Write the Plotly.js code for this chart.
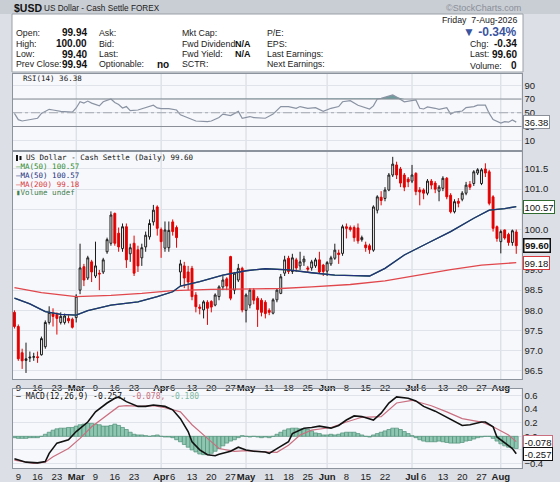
<!DOCTYPE html>
<html><head><meta charset="utf-8">
<script src="https://cdn.plot.ly/plotly-3.0.1.min.js"></script>
<style>html,body{margin:0;padding:0;background:#d6d9df;}#chart{width:560px;height:482px;}</style>
</head><body><div id="chart"></div>
<script>
const W=560,H=482;
function weekdays(a,b){const out=[];let d=new Date(a+'T00:00:00Z');const e=new Date(b+'T00:00:00Z');while(d<=e){const w=d.getUTCDay();if(w>0&&w<6)out.push(d.toISOString().slice(0,10));d=new Date(d.getTime()+86400000);}return out;}
const dates=weekdays('2026-02-06','2026-08-07');

const openP=[97.95,97.60,96.95,96.76,96.82,96.84,96.85,96.90,97.10,97.70,
97.92,97.90,97.70,97.70,97.80,97.78,97.82,98.50,99.08,98.80,
99.20,98.85,98.92,98.95,99.45,99.66,100.40,99.91,99.53,100.07,
99.40,99.66,99.50,99.30,99.57,99.82,100.19,100.56,100.00,99.54,
99.55,100.19,100.05,98.95,99.10,98.95,99.04,98.38,98.08,98.01,
98.20,98.22,98.13,98.34,98.58,98.78,99.33,98.50,98.75,99.04,
98.00,98.13,98.50,98.30,98.25,98.20,98.00,97.93,98.26,98.42,
98.92,99.29,98.96,99.25,99.10,99.20,99.05,99.05,99.10,99.25,
99.12,98.97,99.15,99.29,99.42,99.41,100.07,100.05,100.05,100.04,
99.75,99.62,99.60,99.49,100.48,100.80,100.77,100.98,101.35,101.60,
101.50,101.35,101.25,101.20,101.39,100.98,100.98,100.90,101.20,101.15,
100.95,101.02,101.27,100.85,100.44,100.70,100.75,100.90,101.12,101.14,
101.40,101.14,101.50,101.43,100.81,100.07,99.70,99.99,99.88,99.68,
99.94];
const highP=[98.00,97.65,97.05,97.20,96.98,96.95,96.98,97.35,97.75,98.10,
98.05,97.95,97.95,97.92,97.88,97.82,98.40,99.65,99.15,99.35,
99.25,99.70,99.00,99.30,99.80,100.45,100.42,100.05,100.15,100.15,
99.65,99.85,99.60,99.65,99.95,100.25,100.61,100.60,100.05,100.20,
100.20,100.25,100.10,99.25,99.20,99.10,99.10,98.45,98.15,98.25,
98.25,98.25,98.42,98.62,98.85,98.82,99.35,98.95,99.15,99.08,
98.42,98.55,98.55,98.35,98.30,98.25,98.05,98.30,98.55,98.90,
99.35,99.35,99.40,99.30,99.45,99.35,99.10,99.25,99.30,99.45,
99.15,99.22,99.35,99.65,99.50,100.12,100.15,100.10,100.10,100.15,
99.85,99.70,99.65,100.60,100.85,100.95,101.05,101.40,101.80,101.68,
101.55,101.40,101.30,101.60,101.42,101.05,101.02,101.25,101.25,101.20,
101.10,101.32,101.30,100.90,100.75,100.78,100.95,101.18,101.20,101.47,
101.52,101.52,101.64,101.48,100.85,100.10,100.00,100.00,99.92,100.00,
100.00];
const lowP=[97.55,96.75,96.55,96.45,96.72,96.75,96.70,96.88,97.05,97.65,
97.60,97.40,97.65,97.65,97.68,97.55,97.70,98.40,98.60,98.75,
98.70,98.80,98.50,98.90,99.40,99.60,99.60,99.45,99.45,99.05,
99.20,98.85,98.95,99.10,99.45,99.75,100.10,99.85,99.30,99.45,
99.45,99.85,99.55,98.60,98.55,98.50,98.25,97.95,97.90,97.80,
97.64,97.95,98.10,98.25,98.50,98.50,98.25,98.40,98.70,97.95,
97.70,98.05,98.15,97.59,97.85,97.80,97.88,97.90,98.20,98.40,
98.85,98.90,98.90,98.95,99.00,99.10,98.95,98.98,99.05,98.90,
98.85,98.85,99.10,99.25,99.15,99.35,99.78,99.95,99.70,99.65,
99.70,99.45,99.40,99.45,100.40,100.60,100.70,100.95,101.30,101.25,
101.05,100.95,101.05,101.15,100.85,100.60,100.75,100.85,101.00,100.90,
100.70,100.95,100.75,100.40,100.40,100.55,100.70,100.85,100.98,101.08,
101.35,101.10,101.30,100.60,99.95,99.70,99.41,99.75,99.60,99.60,
99.40];
const closeP=[97.60,96.80,96.75,96.80,96.84,96.85,96.83,97.30,97.70,97.95,
97.85,97.80,97.85,97.86,97.74,97.58,98.35,99.05,98.75,99.30,
98.95,99.10,98.90,99.25,99.75,100.36,99.66,99.57,100.07,99.25,
99.55,98.92,99.10,99.55,99.86,100.15,100.48,100.03,99.70,99.99,
99.98,99.95,99.80,99.15,98.80,98.70,98.34,98.09,98.05,98.21,
98.05,98.08,98.38,98.58,98.75,98.60,98.30,98.92,99.04,98.01,
98.38,98.50,98.25,98.02,97.95,97.92,97.95,98.26,98.50,98.83,
99.25,98.96,99.30,99.05,99.20,99.27,99.02,99.20,99.25,98.95,
98.96,99.18,99.30,99.49,99.38,100.07,100.03,100.00,99.80,99.72,
99.80,99.55,99.50,100.56,100.81,100.72,100.98,101.35,101.62,101.35,
101.15,101.05,101.18,101.35,100.94,100.93,100.90,101.20,101.10,101.00,
101.05,101.27,100.81,100.44,100.69,100.65,100.90,101.10,101.05,101.43,
101.48,101.48,101.40,100.65,100.03,99.78,99.95,99.79,99.68,99.97,
99.60];

const ma50Idx=[0,4,8,12,16,19,25,32,37,41,43,48,54,60,65,71,77,83,88,92,96,101,107,113,119,123,127,130];
const ma50Val=[98.30,98.16,97.97,97.90,97.88,97.99,98.13,98.21,98.34,98.46,98.60,98.71,98.87,98.98,99.03,99.00,98.93,98.87,98.86,98.85,99.04,99.37,99.66,99.95,100.28,100.48,100.52,100.57];
const ma200Idx=[0,7,16,25,33,41,51,60,69,77,87,96,104,113,121,130];
const ma200Val=[98.56,98.44,98.34,98.37,98.42,98.49,98.52,98.53,98.54,98.58,98.64,98.73,98.87,99.01,99.12,99.18];

const rsiIdx=[0,1,2,4,6,7,9,10,12,15,16,17,18,19,20,22,23,25,26,27,28,29,30,32,36,37,38,40,42,43,45,47,50,51,53,54,56,57,58,59,61,62,65,67,68,69,71,73,74,76,78,80,82,84,85,87,89,90,92,93,94,95,98,99,101,104,105,106,107,109,110,112,113,114,116,117,119,120,122,123,124,126,127,128,129,130];
const rsiVal=[49,40,38,40,42,49,55,54,52,51,57,66,64,67,64,60,66,70,65,62,57,59,53,54,61,57,56,56,54,47,42,38,37,38,43,48,46,49,52,42,44.5,43,42,48,53,59,59,56.5,59,56.5,57.5,52,56.5,59,66,67.6,61,59,55.5,60,70,71,76,73,66,68.6,56.5,55.5,58.4,56.5,55,57.5,48,51,52.6,57.5,59,61,61,49,40,35,37,36.3,39.6,36.38];

const macdIdx=[0,3,6,8,9,11,14,16,19,21,24,26,27,29,32,34,36,39,41,43,45,46,48,50,52,53,56,58,60,62,65,66,68,69,71,72,75,77,79,82,84,86,88,90,93,95,97,99,102,104,106,109,111,114,116,118,121,122,124,125,127,129,130];
const macdVal=[-0.33,-0.38,-0.39,-0.37,-0.25,-0.10,-0.05,0.07,0.21,0.36,0.49,0.56,0.58,0.51,0.44,0.44,0.46,0.44,0.39,0.26,0.07,-0.08,-0.20,-0.27,-0.285,-0.265,-0.22,-0.16,-0.20,-0.22,-0.23,-0.25,-0.18,-0.15,-0.08,0.04,0.12,0.13,0.15,0.12,0.16,0.24,0.30,0.29,0.24,0.34,0.49,0.58,0.56,0.52,0.44,0.37,0.31,0.21,0.16,0.17,0.21,0.21,0.14,-0.01,-0.10,-0.18,-0.257];
const sigIdx=[0,5,8,10,14,17,20,24,27,29,33,36,39,43,46,50,53,57,60,65,68,71,74,77,82,86,90,95,99,103,108,112,116,121,124,128,130];
const sigVal=[-0.35,-0.40,-0.38,-0.30,-0.18,-0.03,0.14,0.31,0.44,0.45,0.44,0.45,0.42,0.36,0.17,-0.03,-0.18,-0.22,-0.21,-0.23,-0.235,-0.13,0.02,0.09,0.13,0.21,0.28,0.29,0.49,0.53,0.45,0.36,0.26,0.21,0.14,0.02,-0.078];
const histVal=[-0.02,-0.03,-0.03,-0.03,-0.02,-0.02,-0.02,0.00,0.03,0.06,
0.09,0.11,0.12,0.12,0.13,0.13,0.15,0.17,0.18,0.19,
0.19,0.18,0.17,0.15,0.15,0.16,0.18,0.16,0.13,0.10,
0.06,0.03,0.02,0.02,0.01,0.00,0.01,0.02,0.00,-0.01,
-0.01,-0.02,-0.05,-0.08,-0.12,-0.16,-0.20,-0.23,-0.26,-0.27,
-0.27,-0.25,-0.22,-0.18,-0.14,-0.10,-0.07,-0.05,-0.02,0.01,
0.00,-0.01,0.00,-0.01,-0.02,-0.01,-0.02,0.00,0.03,0.06,
0.09,0.11,0.12,0.12,0.11,0.11,0.10,0.08,0.05,0.04,
0.02,0.02,0.03,0.02,0.03,0.05,0.06,0.06,0.06,0.04,
0.02,0.00,-0.01,0.02,0.04,0.06,0.08,0.10,0.12,0.12,
0.10,0.07,0.04,0.01,-0.02,-0.05,-0.07,-0.08,-0.08,-0.08,
-0.07,-0.08,-0.09,-0.10,-0.10,-0.10,-0.09,-0.07,-0.06,-0.04,
-0.02,-0.01,0.00,0.00,-0.03,-0.07,-0.11,-0.14,-0.16,-0.17,
-0.18];

const tickDates=['2026-02-09','2026-02-16','2026-02-23','2026-03-02','2026-03-09','2026-03-16','2026-03-23','2026-04-01','2026-04-06','2026-04-13','2026-04-20','2026-04-27','2026-05-01','2026-05-11','2026-05-18','2026-05-25','2026-06-01','2026-06-08','2026-06-15','2026-06-22','2026-07-01','2026-07-06','2026-07-13','2026-07-20','2026-07-27','2026-08-03'];
const tickLabels=['9','16','23','<b>Mar</b>','9','16','23','<b>Apr</b>','6','13','20','27','<b>May</b>','11','18','25','<b>Jun</b>','8','15','22','<b>Jul</b>','6','13','20','27','<b>Aug</b>'];

// ---- layout helpers ----
const idx=dates.map((_,i)=>i);
const tickVals=tickDates.map(d=>dates.indexOf(d));
const monthStarts=idx.filter(i=>i>0&&dates[i].slice(5,7)!==dates[i-1].slice(5,7));
const px=x=>x/W, py=y=>1-y/H;
const XD=[px(13),px(521.5)];
const XR=[-0.37,131.36];
const FA='Liberation Sans, Arial, sans-serif';
const FM='DejaVu Sans Mono, monospace';
const gridC='#e0e3e9', frameC='#8d939c';

const traces=[];
traces.push({type:'scatter',mode:'lines',x:rsiIdx,y:rsiIdx.map(()=>70),xaxis:'x',yaxis:'y',line:{width:0},hoverinfo:'skip',showlegend:false});
traces.push({type:'scatter',mode:'lines',x:rsiIdx,y:rsiVal.map(v=>Math.max(v,70)),xaxis:'x',yaxis:'y',line:{width:0},fill:'tonexty',fillcolor:'#6e9c9c',showlegend:false});
traces.push({type:'scatter',mode:'lines',x:rsiIdx,y:rsiVal,xaxis:'x',yaxis:'y',line:{color:'#8a93a3',width:1.2},showlegend:false});
traces.push({type:'scatter',mode:'lines',x:ma200Idx,y:ma200Val,xaxis:'x2',yaxis:'y2',line:{color:'#e0474c',width:1.3},showlegend:false});
traces.push({type:'scatter',mode:'lines',x:ma50Idx,y:ma50Val,xaxis:'x2',yaxis:'y2',line:{color:'#2e8b2e',width:1.3},showlegend:false});
traces.push({type:'scatter',mode:'lines',x:ma50Idx,y:ma50Val,xaxis:'x2',yaxis:'y2',line:{color:'#22307e',width:1.3},showlegend:false});
traces.push({type:'candlestick',x:idx,open:openP,high:highP,low:lowP,close:closeP,xaxis:'x2',yaxis:'y2',
  increasing:{line:{color:'#1a1a1a',width:1},fillcolor:'#ffffff'},
  decreasing:{line:{color:'#e30000',width:1},fillcolor:'#e30000'},whiskerwidth:0,showlegend:false});
traces.push({type:'bar',x:idx,y:histVal,xaxis:'x3',yaxis:'y3',marker:{color:'#8fc6b1',line:{color:'#4f8f78',width:0.7}},showlegend:false});
traces.push({type:'scatter',mode:'lines',x:sigIdx,y:sigVal,xaxis:'x3',yaxis:'y3',line:{color:'#c96f80',width:1.2},showlegend:false});
traces.push({type:'scatter',mode:'lines',x:macdIdx,y:macdVal,xaxis:'x3',yaxis:'y3',line:{color:'#111111',width:1.6},showlegend:false});

const xBase={range:XR,domain:XD,showgrid:false,zeroline:false,showline:true,mirror:true,linecolor:frameC,linewidth:1,ticks:'',tickangle:0,fixedrange:true,automargin:false};
const tickFont={family:FA,size:9.5,color:'#222'};
const yBase={side:'right',showgrid:true,gridcolor:gridC,zeroline:false,showline:true,mirror:true,linecolor:frameC,linewidth:1,ticks:'',tickfont:tickFont,fixedrange:true,automargin:false};

const shapes=[];
// title strip and header box
shapes.push({type:'rect',xref:'paper',yref:'paper',x0:0,x1:1,y0:py(14),y1:1,fillcolor:'#c9cdd4',line:{width:0},layer:'below'});
shapes.push({type:'rect',xref:'paper',yref:'paper',x0:px(12),x1:px(523),y0:py(72),y1:py(14),fillcolor:'#ffffff',line:{color:'#9aa0a8',width:1},layer:'below'});
[['x','y'],['x2','y2'],['x3','y3']].forEach(([xa,ya])=>{
  monthStarts.forEach(m=>shapes.push({type:'line',xref:xa,yref:ya+' domain',x0:m,x1:m,y0:0,y1:1,line:{color:'#d3d7de',width:1},layer:'below'}));
});
shapes.push({type:'line',xref:'x domain',yref:'y',x0:0,x1:1,y0:70,y1:70,line:{color:'#8a8f98',width:1}});
shapes.push({type:'line',xref:'x domain',yref:'y',x0:0,x1:1,y0:30,y1:30,line:{color:'#8a8f98',width:1}});
shapes.push({type:'line',xref:'x domain',yref:'y',x0:0,x1:1,y0:50,y1:50,line:{color:'#a3a8b0',width:1,dash:'dashdot'}});

const annotations=[];
function A(text,x,y,o){annotations.push(Object.assign({text:text,x:px(x),y:py(y),xref:'paper',yref:'paper',xanchor:'left',yanchor:'middle',showarrow:false,font:{family:FA,size:8.8,color:'#222'}},o||{}));}
const VF={family:FA,size:10,color:'#111'};
A('<b>$USD</b>',12,8,{font:{family:FA,size:10.5,color:'#111'}});
A('US Dollar - Cash Settle',42,8,{font:{family:FA,size:8.2,color:'#222'}});
A('FOREX',129,8.5,{font:{family:FA,size:8.2,color:'#222'}});
A('©StockCharts.com',523,8,{xanchor:'right',font:{family:FA,size:9,color:'#8a8f98'}});
const R=[33,43.5,54,64.5];
const B=s=>'<b>'+s+'</b>';
['Open:','High:','Low:','Prev Close:'].forEach((t,k)=>A(t,14,R[k]));
['99.94','100.00','99.40','99.94'].forEach((t,k)=>A(B(t),89,R[k],{xanchor:'right',font:VF}));
['Ask:','Bid:','Last:','Optionable:'].forEach((t,k)=>A(t,97,R[k]));
A(B('no'),171,R[3],{xanchor:'right',font:VF});
['Mkt Cap:','Fwd Dividend:','Fwd Yield:','SCTR:'].forEach((t,k)=>A(t,180,R[k]));
A(B('N/A'),253,R[1],{xanchor:'right',font:{family:FA,size:9,color:'#111'}});
A(B('N/A'),253,R[2],{xanchor:'right',font:{family:FA,size:9,color:'#111'}});
['P/E:','EPS:','Last Earnings:','Next Earnings:'].forEach((t,k)=>A(t,265,R[k]));
A('Friday  7-Aug-2026',519,20.5,{xanchor:'right'});
A('<b>▼ -0.34%</b>',519,32.5,{xanchor:'right',font:{family:FA,size:12,color:'#3a55a0'}});
A('Chg:',468,R[1]); A(B('-0.34'),519,R[1],{xanchor:'right',font:VF});
A('Last:',468,R[2]); A(B('99.60'),519,R[2],{xanchor:'right',font:VF});
A('Volume:',468,R[3]+1.5); A(B('0'),519,R[3]+1.5,{xanchor:'right',font:VF});
A('RSI(14) 36.38',21,79,{font:{family:FM,size:7.5,color:'#222'}});
A('US Dollar - Cash Settle (Daily) 99.60',24,158,{font:{family:FM,size:7.5,color:'#111'}});
A('—MA(50) 100.57',14,166.7,{font:{family:FM,size:7.5,color:'#2e8b2e'}});
A('—MA(50) 100.57',14,175,{font:{family:FM,size:7.5,color:'#22307e'}});
A('—MA(200) 99.18',14,184,{font:{family:FM,size:7.5,color:'#d9383d'}});
A('▮Volume undef',14,192.5,{font:{family:FM,size:7.5,color:'#3f7f4f'}});
A('— MACD(12,26,9) -0.257, <span style="color:#c96f80">-0.078,</span> <span style="color:#7fb8a5">-0.180</span>',14,396,{font:{family:FM,size:8,color:'#111'}});
function tag(text,ya,val,border,bold,bw){annotations.push({text:bold?B(text):text,x:px(523),y:val,xref:'paper',yref:ya,xanchor:'left',yanchor:'middle',showarrow:false,bgcolor:'#ffffff',bordercolor:border,borderwidth:bw||1,borderpad:0.5,font:{family:FA,size:9.5,color:'#111'}});}
tag('36.38','y',36.38,'#8a8f98');
tag('100.57','y2',100.57,'#2f6b2f');
tag('99.18','y2',99.18,'#d9383d');
tag('99.60','y2',99.60,'#111',true,1.5);
tag('-0.180','y3',-0.18,'#6aa596');
tag('-0.078','y3',-0.078,'#c96f80');
tag('-0.257','y3',-0.257,'#111');
shapes.push({type:'rect',xref:'paper',yref:'paper',x0:px(16),x1:px(18),y0:py(161),y1:py(155),fillcolor:'#111',line:{width:0}});
shapes.push({type:'rect',xref:'paper',yref:'paper',x0:px(19.5),x1:px(21.5),y0:py(160),y1:py(156),fillcolor:'#111',line:{width:0}});

const layout={width:W,height:H,margin:{l:0,r:0,t:0,b:0},paper_bgcolor:'#dcdfe5',plot_bgcolor:'#f7f8fb',showlegend:false,bargap:0,
  xaxis:Object.assign({},xBase,{anchor:'y',showticklabels:false}),
  yaxis:Object.assign({},yBase,{domain:[py(150),py(74)],range:[-4.2,106.4],tickvals:[10,30,50,70,90],ticktext:['10','30','50','70','90']}),
  xaxis2:Object.assign({},xBase,{anchor:'y2',tickvals:tickVals,ticktext:tickLabels,tickfont:tickFont,rangeslider:{visible:false}}),
  yaxis2:Object.assign({},yBase,{domain:[py(379),py(152)],range:[96.30,101.92],tickvals:[96.5,97,97.5,98,98.5,99,99.5,100,100.5,101,101.5],tickformat:'.1f'}),
  xaxis3:Object.assign({},xBase,{anchor:'y3',tickvals:tickVals,ticktext:tickLabels,tickfont:tickFont}),
  yaxis3:Object.assign({},yBase,{domain:[py(468),py(389)],range:[-0.466,0.696],tickvals:[-0.4,-0.2,0,0.2,0.4,0.6],tickformat:'.1f'}),
  shapes:shapes,annotations:annotations};
Plotly.newPlot('chart',traces,layout,{displayModeBar:false,staticPlot:true});
</script></body></html>
